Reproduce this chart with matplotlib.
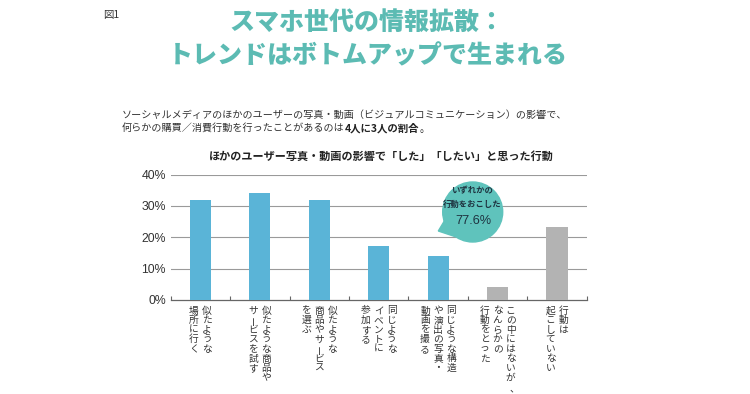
import matplotlib
matplotlib.use('Agg')
import matplotlib.pyplot as plt
from matplotlib.patches import Circle, Polygon
import numpy as np

plt.rcParams['font.family'] = ['Noto Sans CJK JP', 'DejaVu Sans']

# data
labels = [
    ["似たような", "場所に行く"],
    ["似たような商品や", "サービスを試す"],
    ["似たような", "商品やサービス", "を選ぶ"],
    ["同じような", "イベントに", "参加する"],
    ["同じような構造", "や演出の写真・", "動画を撮る"],
    ["この中にはないが、", "なんらかの", "行動をとった"],
    ["行動は", "起こしていない"],
]
values = [31.8, 34.0, 32.0, 17.3, 14.1, 4.3, 23.4]
bar_colors = ["#5ab4d7"] * 5 + ["#b3b3b3"] * 2
yticks = [0, 10, 20, 30, 40]
ytick_labels = ["0%", "10%", "20%", "30%", "40%"]
any_action = "77.6%"

W, H = 750, 394
fig = plt.figure(figsize=(W / 100, H / 100), dpi=100)

def fx(px):
    return px / W

def fy(py):
    return 1 - py / H

# headings
fig.text(fx(103), fy(15), "図1", fontsize=7.5, color="#333333", va="center", ha="left")
title_color = "#5cbbb3"
fig.text(fx(367), fy(22), "スマホ世代の情報拡散：", fontsize=18, weight="black",
         color=title_color, ha="center", va="center")
fig.text(fx(368), fy(55), "トレンドはボトムアップで生まれる", fontsize=18, weight="black",
         color=title_color, ha="center", va="center")

fig.text(fx(122), fy(115), "ソーシャルメディアのほかのユーザーの写真・動画（ビジュアルコミュニケーション）の影響で、",
         fontsize=7.25, color="#333333", ha="left", va="center")
t1 = fig.text(fx(122), fy(132), "何らかの購買／消費行動を行ったことがあるのは",
              fontsize=7.25, color="#333333", ha="left", va="baseline")
t2 = fig.text(0, 0, "4人に3人の割合", fontsize=7.5, weight="bold", color="#222222",
              ha="left", va="baseline")
t3 = fig.text(0, 0, "。", fontsize=7.25, color="#333333", ha="left", va="baseline")

fig.text(fx(381), fy(156), "ほかのユーザー写真・動画の影響で「した」「したい」と思った行動",
         fontsize=8.0, weight="bold", color="#222222", ha="center", va="center")

# chart
ax = fig.add_axes([fx(170.7), fy(300), fx(586.7) - fx(170.7), fy(174.5) - fy(300)])
x = np.arange(len(values))
ax.bar(x, values, width=0.355, color=bar_colors, zorder=3)
ax.set_xlim(-0.5, len(values) - 0.5)
ax.set_ylim(0, 40)
ax.set_yticks(yticks)
ax.set_yticklabels(ytick_labels, family="Liberation Sans", fontsize=8.8, color="#333333")
ax.tick_params(axis="y", length=0, pad=3.4)
for yv in yticks[1:]:
    ax.axhline(yv, color="#9a9a9a", lw=0.8, zorder=1)
ax.set_xticks(np.arange(-0.5, len(values)))
ax.set_xticklabels([])
ax.tick_params(axis="x", direction="in", length=3, width=0.8, color="#666666")
for s in ["left", "right", "top"]:
    ax.spines[s].set_visible(False)
ax.spines["bottom"].set_color("#666666")
ax.spines["bottom"].set_linewidth(0.9)

# vertical (tategaki) category labels: columns right to left
col_gap = 13 * 0.72
pitch = 9.6 * 0.72
top = 10.5 * 0.72
for i, cols in enumerate(labels):
    n = len(cols)
    for j, col in enumerate(cols):
        dx = ((n - 1) / 2 - j) * col_gap
        for k, ch in enumerate(col):
            dy = -(top + k * pitch)
            rot = 0
            ox, oy = 0, 0
            if ch == "ー":
                rot = 90
            elif ch in "、，":
                ox, oy = 3.0, -0.5
            ax.annotate(ch, xy=(i, 0), xycoords=("data", "axes fraction"),
                        xytext=(dx + ox, dy + oy), textcoords="offset points",
                        ha="center", va="center", fontsize=7.0, rotation=rot,
                        color="#333333", annotation_clip=False)

fig.canvas.draw()
base_y = t1.get_position()[1]
t2.set_position((t1.get_window_extent().x1 / W, base_y))
fig.canvas.draw()
t3.set_position((t2.get_window_extent().x1 / W, base_y))

# speech bubble
bub = "#5fc3bc"
cx, cy, r = 472.7, 394 - 212, 30
circ = Circle((cx / 100, cy / 100), r / 100, transform=fig.dpi_scale_trans,
              color=bub, zorder=5)
a1, a2 = np.radians(198), np.radians(236)
tail = Polygon([((cx + r * np.cos(a1)) / 100, (cy + r * np.sin(a1)) / 100),
                (438.3 / 100, (394 - 231) / 100),
                ((cx + r * np.cos(a2)) / 100, (cy + r * np.sin(a2)) / 100)],
               closed=True, transform=fig.dpi_scale_trans, color=bub, zorder=5)
fig.add_artist(tail)
fig.add_artist(circ)
fig.text(fx(472.5), fy(190.5), "いずれかの", fontsize=6.0, weight="bold", color="#1e3340",
         ha="center", va="center", zorder=6)
fig.text(fx(472.5), fy(204.5), "行動をおこした", fontsize=6.0, weight="bold", color="#1e3340",
         ha="center", va="center", zorder=6)
fig.text(fx(473), fy(220.5), any_action, family="Liberation Sans", fontsize=9.2,
         color="#1e3340", ha="center", va="center", zorder=6)

fig.savefig("out.png", dpi=100)
